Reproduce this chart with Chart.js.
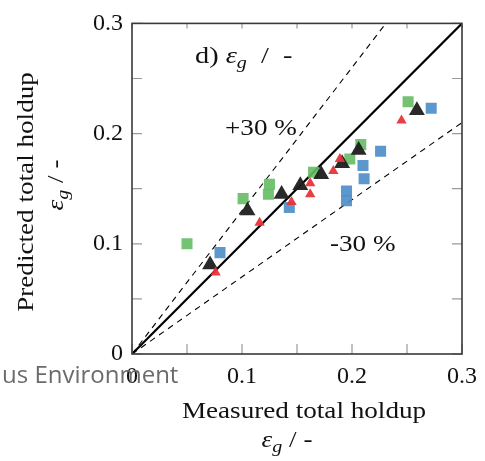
<!DOCTYPE html>
<html>
<head>
<meta charset="utf-8">
<script src="https://cdn.jsdelivr.net/npm/chart.js@4.4.0/dist/chart.umd.min.js"></script>
<style>
  html, body { margin: 0; padding: 0; background: #fff; }
  #grafico { display: block; }
</style>
</head>
<body>
<canvas id="grafico" width="485" height="461"></canvas>
<script>
const verdeX = [0.050, 0.101, 0.124, 0.125, 0.165, 0.198, 0.208, 0.251];
const verdeY = [0.100, 0.141, 0.145, 0.154, 0.165, 0.177, 0.190, 0.229];

const azulX = [0.080, 0.143, 0.195, 0.195, 0.210, 0.211, 0.226, 0.272];
const azulY = [0.092, 0.133, 0.148, 0.139, 0.171, 0.159, 0.184, 0.223];

const rojoX = [0.076, 0.116, 0.145, 0.162, 0.162, 0.183, 0.189, 0.245];
const rojoY = [0.074, 0.119, 0.138, 0.155, 0.145, 0.166, 0.177, 0.212];

const negroX = [0.071, 0.105, 0.136, 0.153, 0.172, 0.191, 0.206, 0.259];
const negroY = [0.081, 0.130, 0.145, 0.153, 0.163, 0.173, 0.185, 0.221];

// Líneas de referencia: y = x, +30 % y -30 %
const lineaX = [0, 0.3];
const paridadY = [0, 0.3];
const masY = [0, 0.39];
const menosY = [0, 0.21];

// Marcas de los ejes
const marcas = [0, 0.05, 0.1, 0.15, 0.2, 0.25, 0.3];
const etiquetas = ['0', '', '0.1', '', '0.2', '', '0.3'];

const SERIF = '"Liberation Serif", "DejaVu Serif", serif';
const ESTIRAR = 1.18;

function puntos(xs, ys) {
  return xs.map((x, i) => ({ x: x, y: ys[i] }));
}

// Texto serif algo más ancho, parecido a Computer Modern
function textoAncho(ctx, partes, x, y, alinear) {
  let total = 0;
  partes.forEach(p => { ctx.font = p.font; total += ctx.measureText(p.t).width * ESTIRAR; });
  let cx = alinear === 'center' ? x - total / 2 : x;
  partes.forEach(p => {
    ctx.font = p.font;
    ctx.save();
    ctx.translate(cx, y + (p.dy || 0));
    ctx.scale(ESTIRAR, 1);
    ctx.fillText(p.t, 0, 0);
    ctx.restore();
    cx += ctx.measureText(p.t).width * ESTIRAR;
  });
}

function partesEps(tam, prefijo, sep) {
  const arr = [];
  if (prefijo) arr.push({ t: prefijo, font: `${tam}px ${SERIF}` });
  arr.push({ t: 'ε', font: `italic ${tam}px ${SERIF}` });
  arr.push({ t: 'g', font: `italic ${Math.round(tam * 0.72)}px ${SERIF}`, dy: 5 });
  arr.push({ t: `${sep}/${sep}-`, font: `${tam}px ${SERIF}` });
  return arr;
}

const decoracion = {
  id: 'decoracion',
  afterDatasetsDraw(chart) {
    const ctx = chart.ctx;
    const a = chart.chartArea;
    const sx = chart.scales.x, sy = chart.scales.y;
    ctx.save();
    // marcas hacia adentro en los cuatro lados
    ctx.strokeStyle = '#9a9a9a';
    ctx.lineWidth = 1.2;
    ctx.beginPath();
    marcas.forEach(v => {
      const px = sx.getPixelForValue(v);
      const py = sy.getPixelForValue(v);
      ctx.moveTo(px, a.bottom); ctx.lineTo(px, a.bottom - 10);
      ctx.moveTo(px, a.top); ctx.lineTo(px, a.top + 5);
      ctx.moveTo(a.left, py); ctx.lineTo(a.left + 10, py);
      ctx.moveTo(a.right, py); ctx.lineTo(a.right - 10, py);
    });
    ctx.stroke();
    // marco
    ctx.strokeStyle = '#3a3a3a';
    ctx.lineWidth = 1.6;
    ctx.strokeRect(a.left, a.top, a.right - a.left, a.bottom - a.top);
    ctx.restore();
  },
  afterDraw(chart) {
    const ctx = chart.ctx;
    ctx.save();
    ctx.fillStyle = '#111';
    ctx.textBaseline = 'alphabetic';

    // títulos del eje x
    textoAncho(ctx, [{ t: 'Measured total holdup', font: `23px ${SERIF}` }], 304, 418, 'center');
    textoAncho(ctx, partesEps(23, '', ' '), 287, 447, 'center');

    // títulos del eje y (rotados)
    ctx.save();
    ctx.translate(33, 192);
    ctx.rotate(-Math.PI / 2);
    textoAncho(ctx, [{ t: 'Predicted total holdup', font: `23px ${SERIF}` }], 0, 0, 'center');
    ctx.restore();
    ctx.save();
    ctx.translate(63, 185);
    ctx.rotate(-Math.PI / 2);
    textoAncho(ctx, partesEps(23, '', ' '), 0, 0, 'center');
    ctx.restore();

    // anotaciones dentro del gráfico
    textoAncho(ctx, partesEps(24, 'd) ', '  '), 195, 63, 'left');
    textoAncho(ctx, [{ t: '+30 %', font: `23px ${SERIF}` }], 225, 135, 'left');
    textoAncho(ctx, [{ t: '-30 %', font: `23px ${SERIF}` }], 330, 251, 'left');

    // texto gris que asoma abajo a la izquierda
    ctx.fillStyle = '#6b6b6b';
    ctx.font = '24px "Open Sans", "Noto Sans", sans-serif';
    ctx.fillText('us Environment', 2, 383);
    ctx.restore();
  }
};

const ctx = document.getElementById('grafico').getContext('2d');
window.chartInstance = new Chart(ctx, {
  type: 'scatter',
  data: {
    datasets: [
      {
        label: 'rojo',
        data: puntos(rojoX, rojoY),
        pointStyle: 'triangle',
        pointRadius: 6,
        backgroundColor: 'rgba(232, 52, 58, 0.95)',
        borderColor: 'rgba(232, 52, 58, 0.95)',
        borderWidth: 0
      },
      {
        label: 'negro',
        data: puntos(negroX, negroY),
        pointStyle: 'triangle',
        pointRadius: 9.2,
        backgroundColor: 'rgba(30, 30, 30, 0.95)',
        borderColor: 'rgba(30, 30, 30, 0.95)',
        borderWidth: 0
      },
      {
        label: 'azul',
        data: puntos(azulX, azulY),
        pointStyle: 'rect',
        pointRadius: 7.8,
        backgroundColor: 'rgba(74, 140, 200, 0.9)',
        borderColor: 'rgba(74, 140, 200, 0.9)',
        borderWidth: 0
      },
      {
        label: 'verde',
        data: puntos(verdeX, verdeY),
        pointStyle: 'rect',
        pointRadius: 7.8,
        backgroundColor: 'rgba(100, 188, 100, 0.9)',
        borderColor: 'rgba(100, 188, 100, 0.9)',
        borderWidth: 0
      },
      {
        label: 'paridad',
        data: puntos(lineaX, paridadY),
        showLine: true,
        pointRadius: 0,
        borderColor: '#000',
        borderWidth: 2.2,
        fill: false
      },
      {
        label: '+30',
        data: puntos(lineaX, masY),
        showLine: true,
        pointRadius: 0,
        borderColor: '#000',
        borderWidth: 1.1,
        borderDash: [6, 5],
        fill: false
      },
      {
        label: '-30',
        data: puntos(lineaX, menosY),
        showLine: true,
        pointRadius: 0,
        borderColor: '#000',
        borderWidth: 1.1,
        borderDash: [6, 5],
        fill: false
      }
    ]
  },
  options: {
    responsive: false,
    animation: false,
    layout: { padding: { top: 21, right: 20, left: 0, bottom: 0 } },
    plugins: {
      legend: { display: false },
      tooltip: { enabled: false }
    },
    scales: {
      x: {
        type: 'linear',
        min: 0,
        max: 0.3,
        afterBuildTicks: s => { s.ticks = marcas.map(v => ({ value: v })); },
        afterFit: s => { s.height = 107; },
        grid: { display: false, drawTicks: false },
        border: { display: false },
        ticks: {
          autoSkip: false,
          maxRotation: 0,
          padding: 8,
          color: '#111',
          font: { family: SERIF, size: 24 },
          callback: (v, i) => etiquetas[i]
        }
      },
      y: {
        type: 'linear',
        min: 0,
        max: 0.3,
        afterBuildTicks: s => { s.ticks = marcas.map(v => ({ value: v })); },
        afterFit: s => { s.width = 132; },
        grid: { display: false, drawTicks: false },
        border: { display: false },
        ticks: {
          autoSkip: false,
          padding: 9,
          color: '#111',
          font: { family: SERIF, size: 24 },
          callback: (v, i) => etiquetas[i]
        }
      }
    }
  },
  plugins: [decoracion]
});
</script>
</body>
</html>
